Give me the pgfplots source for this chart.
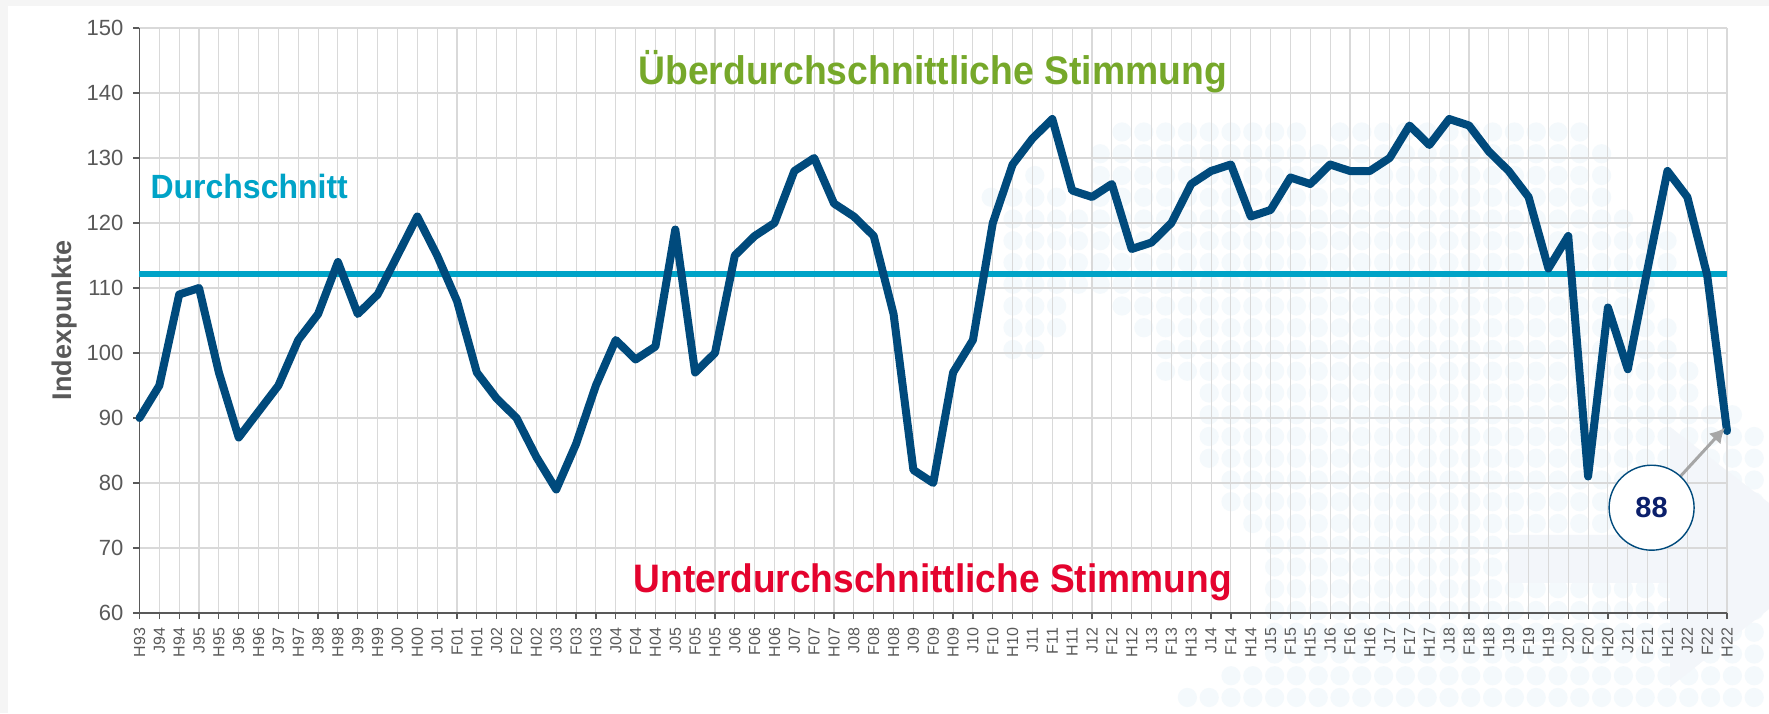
\documentclass[border=0pt]{standalone}
\usepackage{pgfplots}
\usepackage{fontspec}
\setmainfont{Liberation Sans}
\pgfplotsset{compat=1.18}
\usetikzlibrary{arrows.meta}
\definecolor{lblue}{HTML}{004A7C}
\definecolor{lcyan}{HTML}{00A3C7}
\definecolor{lgreen}{HTML}{76A82A}
\definecolor{lred}{HTML}{E4032E}
\definecolor{tgray}{HTML}{595959}
\definecolor{ggray}{HTML}{D9D9D9}
\definecolor{navy}{HTML}{0B1F6B}
\definecolor{wm}{HTML}{F4F9FC}
\definecolor{wmb}{HTML}{F3F6FA}
\pgfplotstableread{
i v
0 90
1 95
2 109
3 110
4 97
5 87
6 91
7 95
8 102
9 106
10 114
11 106
12 109
13 115
14 121
15 115
16 108
17 97
18 93
19 90
20 84
21 79
22 86
23 95
24 102
25 99
26 101
27 119
28 97
29 100
30 115
31 118
32 120
33 128
34 130
35 123
36 121
37 118
38 106
39 82
40 80
41 97
42 102
43 120
44 129
45 133
46 136
47 125
48 124
49 126
50 116
51 117
52 120
53 126
54 128
55 129
56 121
57 122
58 127
59 126
60 129
61 128
62 128
63 130
64 135
65 132
66 136
67 135
68 131
69 128
70 124
71 113
72 118
73 81
74 107
75 97.5
76 113
77 128
78 124
79 112
80 88
}\stimmung
\begin{document}
\begin{tikzpicture}[x=1pt,y=1pt]
\useasboundingbox (0,0) rectangle (884.5,356.5);
\fill[black!4] (0,0) rectangle (884.5,356.5);
\fill[white] (4,0) rectangle (884.5,353.5);
\begin{scope}
\clip (4,0) rectangle (884.5,353.5);
\foreach \r/\a/\b in {0/0/8,0/10/21,1/-1/22,2/-4/-4,2/-1/22,3/-6/-3,3/-1/22,4/-5/23,5/-5/25,6/-5/25,7/-5/24,8/-5/-3,8/0/24,9/-5/-3,9/1/25,10/-5/-4,10/2/25,11/2/26,12/4/26,13/4/28,14/4/29,15/4/29,16/5/29,17/5/29,18/6/29,19/7/29,20/7/29,21/7/29,22/7/29,23/7/29,24/7/29,25/5/29,26/3/29}{
  \foreach \c in {\a,...,\b}{
    \fill[wm] ({(1122+21.8*\c)/2},{(713-132-21.75*\r)/2}) circle (4.8pt);
  }
}
% faint arrow shape of the background artwork
\fill[wmb] (754.5,89) -- (835,89) -- (835,143) -- (884.5,105) -- (884.5,52) -- (835,13) -- (835,65) -- (754.5,65) -- cycle;
\end{scope}
\begin{axis}[
  at={(69.75pt,50pt)},anchor=south west,
  scale only axis,width=793.75pt,height=292.5pt,
  xmin=0,xmax=80,ymin=60,ymax=150,
  ytick={60,70,...,150},
  xtick={0,1,...,80},
  xticklabels={H93,J94,H94,J95,H95,J96,H96,J97,H97,J98,H98,J99,H99,J00,H00,J01,F01,H01,J02,F02,H02,J03,F03,H03,J04,F04,H04,J05,F05,H05,J06,F06,H06,J07,F07,H07,J08,F08,H08,J09,F09,H09,J10,F10,H10,J11,F11,H11,J12,F12,H12,J13,F13,H13,J14,F14,H14,J15,F15,H15,J16,F16,H16,J17,F17,H17,J18,F18,H18,J19,F19,H19,J20,F20,H20,J21,F21,H21,J22,F22,H22},
  x tick label style={rotate=90,anchor=east,font=\fontsize{8}{9}\selectfont,text=tgray,xshift=-1pt},
  y tick label style={font=\fontsize{11}{13}\selectfont,text=tgray,xshift=-1.5pt,/pgf/number format/assume math mode=true},
  ylabel={\textbf{Indexpunkte}},
  ylabel style={font=\fontsize{13.5}{15}\selectfont,text=tgray,anchor=center,at={(axis description cs:-0.047,0.5)}},
  grid=major,
  x grid style={ggray,line width=0.55pt},
  y grid style={ggray,line width=0.9pt},
  axis line style={tgray,line width=0.6pt},
  axis x line=bottom,axis y line=left,
  x axis line style={-},y axis line style={-},
  tick style={tgray,line width=0.6pt},
  tick align=outside,major tick length=3pt,
  clip=false,
]
\addplot[lcyan,line width=3.1pt] coordinates {(0,112.2) (80,112.2)};
\addplot[lblue,line width=4pt,line join=round,line cap=round] table[x=i,y=v] {\stimmung};
\node[font=\bfseries\fontsize{18.65}{20}\selectfont,text=lgreen,yscale=1.07] at (axis cs:39.97,143.3) {Überdurchschnittliche Stimmung};
\node[font=\bfseries\fontsize{18.56}{20}\selectfont,text=lred,yscale=1.07] at (axis cs:39.97,64.7) {Unterdurchschnittliche Stimmung};
\node[font=\bfseries\fontsize{16}{18}\selectfont,text=lcyan,anchor=west,yscale=1.05] at (axis cs:0.2,125.6) {Durchschnitt};
\draw[-{Latex[length=7.5pt,width=8pt]},black!35,line width=1.5pt] (axis cs:76.2,76.2) -- (axis cs:79.9,88.5);
\node[circle,draw=lblue,fill=white,line width=0.7pt,minimum size=42.5pt,inner sep=0pt,font=\bfseries\fontsize{14.5}{16}\selectfont,text=navy] at (axis cs:76.2,76.2) {88};
\end{axis}
\end{tikzpicture}
\end{document}
